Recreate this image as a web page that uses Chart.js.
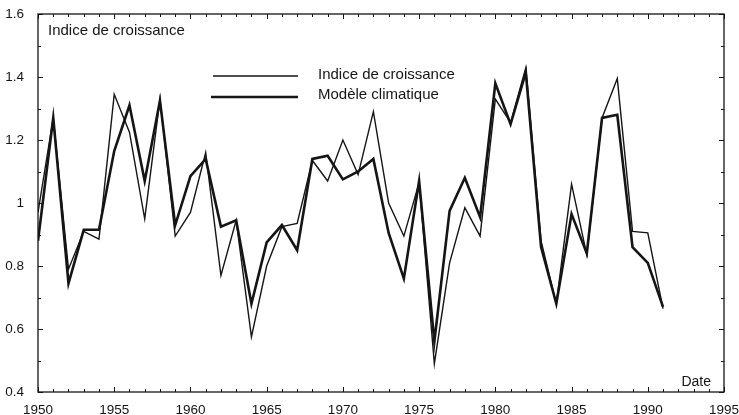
<!DOCTYPE html>
<html>
<head>
<meta charset="utf-8">
<script src="https://cdn.jsdelivr.net/npm/chart.js@4"></script>
<style>
  body { margin: 0; background: #fff; }
  #wrap { width: 739px; height: 415px; }
</style>
</head>
<body>
<div id="wrap"><canvas id="growthChart" width="739" height="415"></canvas></div>
<script>
const years = [1950, 1951, 1952, 1953, 1954, 1955, 1956, 1957, 1958, 1959,
  1960, 1961, 1962, 1963, 1964, 1965, 1966, 1967, 1968, 1969,
  1970, 1971, 1972, 1973, 1974, 1975, 1976, 1977, 1978, 1979,
  1980, 1981, 1982, 1983, 1984, 1985, 1986, 1987, 1988, 1989,
  1990, 1991];

// thin line
const growthIndex = [0.97, 1.27, 0.79, 0.91, 0.885, 1.345, 1.225, 0.95, 1.33, 0.895,
  0.97, 1.16, 0.77, 0.945, 0.575, 0.80, 0.925, 0.935, 1.135, 1.07,
  1.20, 1.09, 1.29, 1.00, 0.895, 1.065, 0.49, 0.81, 0.985, 0.895,
  1.33, 1.255, 1.43, 0.88, 0.68, 1.06, 0.835, 1.27, 1.395, 0.91,
  0.905, 0.665];

// thick line
const climateModel = [0.88, 1.27, 0.745, 0.915, 0.915, 1.165, 1.31, 1.07, 1.325, 0.93,
  1.085, 1.14, 0.925, 0.945, 0.68, 0.875, 0.93, 0.85, 1.14, 1.15,
  1.075, 1.10, 1.14, 0.905, 0.76, 1.07, 0.56, 0.975, 1.08, 0.955,
  1.38, 1.25, 1.415, 0.86, 0.68, 0.965, 0.84, 1.27, 1.28, 0.86,
  0.81, 0.67];

const xTicks = [1950, 1955, 1960, 1965, 1970, 1975, 1980, 1985, 1990, 1995];
const yTicks = [0.4, 0.6, 0.8, 1, 1.2, 1.4, 1.6];

const ink = "#151515";
const font = "'Liberation Sans', Arial, sans-serif";

// frame with inward ticks, axis titles and legend inside the plot
const framePlugin = {
  id: "frame",
  afterDraw(chart) {
    const { ctx, chartArea: a, scales } = chart;
    const x = scales.x, y = scales.y;
    ctx.save();
    ctx.strokeStyle = ink;
    ctx.lineWidth = 1.3;
    ctx.strokeRect(a.left, a.top, a.right - a.left, a.bottom - a.top);

    ctx.lineWidth = 1;
    ctx.beginPath();
    for (let yr = xTicks[0]; yr <= xTicks[xTicks.length - 1]; yr++) {
      const px = Math.round(x.getPixelForValue(yr)) + 0.5;
      const len = yr % 5 === 0 ? 5 : 3;
      ctx.moveTo(px, a.bottom); ctx.lineTo(px, a.bottom - len);
      ctx.moveTo(px, a.top); ctx.lineTo(px, a.top + len);
    }
    for (let k = 4; k <= 16; k++) {
      const py = Math.round(y.getPixelForValue(k / 10)) + 0.5;
      const len = k % 2 === 0 ? 5 : 3;
      ctx.moveTo(a.left, py); ctx.lineTo(a.left + len, py);
      ctx.moveTo(a.right, py); ctx.lineTo(a.right - len, py);
    }
    ctx.stroke();

    ctx.fillStyle = ink;
    ctx.textBaseline = "middle";
    ctx.font = "15px " + font;
    ctx.textAlign = "left";
    ctx.fillText("Indice de croissance", a.left + 10, a.top + 17);
    ctx.font = "14px " + font;
    ctx.textAlign = "right";
    ctx.fillText("Date", a.right - 13, a.bottom - 10);

    // legend
    const lx = a.left + 175;
    ctx.textAlign = "left";
    ctx.font = "15px " + font;
    ctx.lineWidth = 1.4;
    ctx.beginPath(); ctx.moveTo(lx, a.top + 62); ctx.lineTo(lx + 85, a.top + 62); ctx.stroke();
    ctx.fillText(chart.data.datasets[0].label, lx + 105, a.top + 61);
    ctx.lineWidth = 2.6;
    ctx.beginPath(); ctx.moveTo(lx - 2, a.top + 83); ctx.lineTo(lx + 85, a.top + 83); ctx.stroke();
    ctx.fillText(chart.data.datasets[1].label, lx + 105, a.top + 81);
    ctx.restore();
  },
};

const ctx = document.getElementById("growthChart").getContext("2d");

new Chart(ctx, {
  type: "line",
  data: {
    datasets: [
      {
        label: "Indice de croissance",
        data: years.map((yr, i) => ({ x: yr, y: growthIndex[i] })),
        borderColor: ink,
        borderWidth: 1.4,
        pointRadius: 0,
        tension: 0,
      },
      {
        label: "Modèle climatique",
        data: years.map((yr, i) => ({ x: yr, y: climateModel[i] })),
        borderColor: ink,
        borderWidth: 2.6,
        pointRadius: 0,
        tension: 0,
      },
    ],
  },
  options: {
    responsive: false,
    animation: false,
    layout: { padding: { top: 14, right: 15, left: 0, bottom: 0 } },
    plugins: {
      legend: { display: false },
      tooltip: { enabled: false },
    },
    scales: {
      x: {
        type: "linear",
        min: xTicks[0],
        max: xTicks[xTicks.length - 1],
        afterBuildTicks: (scale) => { scale.ticks = xTicks.map((v) => ({ value: v })); },
        afterFit: (scale) => { scale.height = 23; scale.paddingLeft = 0; scale.paddingRight = 0; },
        grid: { display: false },
        border: { display: false },
        ticks: {
          autoSkip: false,
          maxRotation: 0,
          padding: 2,
          color: ink,
          font: { family: font, size: 13.5 },
          callback: (v) => String(v),
        },
      },
      y: {
        min: yTicks[0],
        max: yTicks[yTicks.length - 1],
        afterBuildTicks: (scale) => { scale.ticks = yTicks.map((v) => ({ value: v })); },
        afterFit: (scale) => { scale.width = 38; scale.paddingTop = 0; scale.paddingBottom = 0; },
        grid: { display: false },
        border: { display: false },
        ticks: {
          padding: 6,
          color: ink,
          font: { family: font, size: 13.5 },
          callback: (v) => String(Math.round(v * 10) / 10),
        },
      },
    },
  },
  plugins: [framePlugin],
});
</script>
</body>
</html>
